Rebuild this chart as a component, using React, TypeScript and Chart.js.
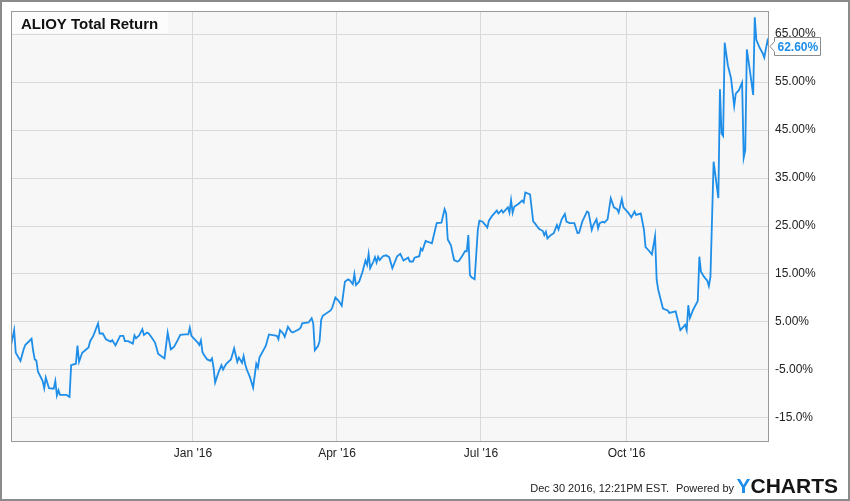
import React, { useEffect, useRef } from "react";
import { Chart, registerables } from "chart.js";

Chart.register(...registerables);

// Days counted from 1 Jan 2016 (negative = 2015)
const dayOffsets = [
  -115, -113, -112, -109, -107, -106, -102, -101, -100, -99, -98, -95, -94, -93, -91, -88, -87, -86, -85, -84,
  -80, -78, -77, -74, -73, -72, -70, -66, -65, -63, -60, -59, -57, -55, -52, -51, -49, -46, -44, -43,
  -41, -38, -37, -36, -34, -32, -31, -29, -28, -26, -24, -22, -21, -18, -16, -14, -12, -10, -8, -5,
  -3, -2, -1, 3, 4, 5, 6, 7, 9, 11, 12, 13, 14, 16, 18, 19, 21, 24, 26, 28,
  29, 31, 32, 33, 34, 36, 38, 40, 41, 42, 46, 48, 53, 54, 55, 57, 58, 60, 62, 63,
  67, 68, 69, 73, 75, 76, 77, 79, 80, 81, 82, 87, 88,
  90, 92, 94, 96, 98, 99, 101, 102, 103, 105, 107, 109, 110, 111, 112, 114, 115, 116, 117, 118,
  120, 122, 124, 126, 129, 131, 133, 136, 137, 139, 140, 143, 144, 145, 147, 151, 154, 157, 159, 160,
  161, 163, 165, 167, 168, 170, 172, 173, 174, 175, 176, 178, 180,
  181, 183, 186, 187, 189, 192, 193, 195, 196, 199, 200, 201, 202, 203, 206, 208, 209, 210, 213, 215,
  216, 218, 219, 221, 222, 223, 224, 226, 228, 230, 231, 233, 235, 236, 238, 241, 243, 244, 246, 249,
  250, 252, 253, 255, 256, 257, 259, 260, 262, 264, 266, 268, 269, 271, 272, 275,
  277, 279, 280, 283, 285, 286, 288, 290, 292, 293, 294, 297, 300, 301, 305, 308, 311, 312, 313,
  314, 316, 319, 320, 321, 323, 325, 326, 327, 329, 332, 333, 334, 335, 336, 338, 340, 342, 343, 345,
  347, 348, 349, 350, 352, 354, 355, 356, 358, 360, 361, 363, 364,
];

// ALIOY total return, %
const totalReturn = [
  0.1, 3.3, -1.4, -3.1, -0.7, 0.2, 1.5, -1.0, -2.8, -3.0, -5.3, -7.3, -8.8, -6.6, -8.8, -8.9, -7.3, -10.3, -9.2, -10.2,
  -10.2, -10.6, -4.0, -3.7, 0.1, -3.3, -1.4, -0.3, 1.0, 2.1, 4.7, 2.6, 2.6, 1.4, 0.9, 1.2, 0.1, 2.1, 2.1, 1.0,
  1.0, 0.5, 2.2, 1.6, 2.2, 3.5, 2.3, 2.8, 2.6, 1.7, 0.7, -1.6, -1.9, -2.6, 2.8, -0.7, -0.2, 1.0, 2.3, 2.4,
  2.4, 3.8, 2.1, 0.7, 0.2, 1.2, -1.3, -1.9, -2.8, -3.1, -2.6, -4.5, -7.6, -5.6, -4.0, -4.9, -3.7, -2.8, -0.5, -3.3,
  -2.4, -3.5, -2.1, -3.8, -4.9, -6.5, -8.7, -3.7, -4.5, -2.4, 0.0, 2.4, 2.1, 1.4, 3.3, 2.6, 1.9, 4.0, 3.0, 2.8,
  3.5, 3.8, 4.7, 4.9, 5.8, 4.7, -0.9, 0.0, 1.0, 5.4, 6.3, 7.4, 8.0,
  10.1, 9.4, 8.4, 13.4, 13.9, 13.7, 12.9, 15.0, 12.7, 13.4, 15.3, 17.8, 16.9, 19.2, 16.2, 17.6, 18.5, 17.4, 18.6, 17.9,
  18.7, 18.9, 18.5, 16.2, 18.7, 19.2, 17.8, 18.4, 17.6, 17.6, 18.4, 18.7, 20.3, 19.9, 21.9, 21.4, 25.6, 25.7, 28.5, 27.6,
  22.2, 21.0, 17.9, 17.6, 17.7, 18.7, 19.8, 19.7, 23.1, 14.8, 14.3, 13.9, 24.2,
  26.1, 25.9, 24.7, 26.1, 27.1, 28.2, 27.6, 28.3, 27.8, 28.9, 27.8, 30.4, 27.8, 29.0, 29.7, 30.3, 29.9, 32.0, 31.6, 25.9,
  25.6, 24.7, 24.3, 24.0, 23.1, 23.8, 22.4, 23.1, 23.5, 25.2, 24.3, 26.4, 27.5, 25.9, 25.6, 25.6, 23.5, 23.6, 25.9, 28.0,
  27.8, 24.2, 25.2, 26.4, 24.5, 25.6, 25.9, 25.7, 26.4, 30.8, 28.9, 28.5, 27.8, 30.6, 28.9, 27.8,
  26.8, 28.0, 27.3, 27.6, 24.2, 20.6, 19.9, 19.1, 22.9, 13.8, 11.7, 7.8, 7.4, 6.9, 7.2, 3.3, 4.4, 3.3, 8.5,
  5.8, 7.5, 9.4, 18.6, 15.5, 14.4, 13.6, 12.5, 14.4, 38.4, 30.8, 53.5, 44.3, 43.8, 63.2, 58.5, 55.8, 50.0, 52.6, 53.3,
  54.9, 39.2, 40.8, 61.8, 57.2, 52.3, 68.5, 63.8, 62.2, 61.0, 60.1, 63.6, 62.6,
];

const xTickDays = [0, 91, 182, 274];
const xTickLabels = ["Jan '16", "Apr '16", "Jul '16", "Oct '16"];
const yTickValues = [-15, -5, 5, 15, 25, 35, 45, 55, 65];
const yTickLabels = ["-15.0%", "-5.00%", "5.00%", "15.00%", "25.00%", "35.00%", "45.00%", "55.00%", "65.00%"];
const chartTitle = "ALIOY Total Return";
const footerDate = "Dec 30 2016, 12:21PM EST.";
const footerPowered = "Powered by";

const FONT = "'Liberation Sans', Arial, sans-serif";
const BLUE = "#1e8ee9";

const decorPlugin = {
  id: "decor",
  beforeDraw(chart: any) {
    const { ctx, chartArea: a } = chart;
    ctx.save();
    ctx.fillStyle = "#ffffff";
    ctx.fillRect(0, 0, chart.width, chart.height);
    ctx.fillStyle = "#f7f7f7";
    ctx.fillRect(a.left, a.top, a.right - a.left, a.bottom - a.top);
    ctx.restore();
  },
  afterDraw(chart: any) {
    const { ctx, chartArea: a } = chart;
    ctx.save();
    // plot border
    ctx.strokeStyle = "#999999";
    ctx.lineWidth = 1;
    ctx.strokeRect(a.left + 0.5, a.top + 0.5, a.right - a.left - 1, a.bottom - a.top);
    // title box
    ctx.fillStyle = "rgba(252,252,252,0.95)";
    ctx.fillRect(a.left + 1, a.top + 1, 156, 21);
    ctx.fillStyle = "#111111";
    ctx.font = `bold 15px ${FONT}`;
    ctx.textBaseline = "alphabetic";
    ctx.textAlign = "left";
    ctx.fillText(chartTitle, 21, 29);
    // last value label
    const meta = chart.getDatasetMeta(0);
    const pt = meta.data[meta.data.length - 1];
    const py = Math.round(pt.y) + 0.5;
    const bx = a.right + 5.5;
    const bw = 46;
    ctx.beginPath();
    ctx.moveTo(a.right + 1, py);
    ctx.lineTo(bx, py - 5);
    ctx.lineTo(bx, py - 9);
    ctx.lineTo(bx + bw, py - 9);
    ctx.lineTo(bx + bw, py + 9);
    ctx.lineTo(bx, py + 9);
    ctx.lineTo(bx, py + 5);
    ctx.closePath();
    ctx.fillStyle = "#ffffff";
    ctx.fill();
    ctx.strokeStyle = "#8c8c8c";
    ctx.lineWidth = 1;
    ctx.stroke();
    const last = totalReturn[totalReturn.length - 1];
    ctx.fillStyle = BLUE;
    ctx.font = `bold 12px ${FONT}`;
    ctx.textBaseline = "middle";
    ctx.fillText(`${last.toFixed(2)}%`, bx + 3, py + 1);
    // footer
    ctx.textBaseline = "alphabetic";
    ctx.textAlign = "right";
    ctx.font = `bold 21px ${FONT}`;
    ctx.fillStyle = "#151515";
    ctx.fillText("CHARTS", 838, 493);
    const w = ctx.measureText("CHARTS").width;
    ctx.fillStyle = BLUE;
    ctx.fillText("Y", 838 - w, 493);
    ctx.font = `11px ${FONT}`;
    ctx.fillStyle = "#222222";
    ctx.fillText(footerPowered, 734, 492);
    ctx.fillText(footerDate, 669, 492);
    // outer frame
    ctx.strokeStyle = "#8a8a8a";
    ctx.lineWidth = 2;
    ctx.strokeRect(1, 1, chart.width - 2, chart.height - 2);
    ctx.restore();
  },
};

export default function App() {
  const ref = useRef<HTMLCanvasElement | null>(null);

  useEffect(() => {
    document.body.style.margin = "0";
    const canvas = ref.current;
    if (!canvas) return;
    Chart.defaults.font.family = FONT;
    const chart = new Chart(canvas, {
      type: "line",
      data: {
        datasets: [
          {
            label: chartTitle,
            data: dayOffsets.map((d, i) => ({ x: d, y: totalReturn[i] })),
            borderColor: BLUE,
            borderWidth: 1.8,
            pointRadius: 0,
            tension: 0,
            fill: false,
          },
        ],
      },
      options: {
        animation: false,
        responsive: false,
        devicePixelRatio: 1,
        layout: { padding: { left: 11, top: 11, right: 0, bottom: 0 } },
        plugins: { legend: { display: false }, tooltip: { enabled: false }, title: { display: false } },
        scales: {
          x: {
            type: "linear",
            min: -115,
            max: 364,
            afterBuildTicks: (scale: any) => {
              scale.ticks = xTickDays.map((v) => ({ value: v }));
            },
            afterFit: (scale: any) => {
              scale.height = 60;
              scale.paddingLeft = 0;
              scale.paddingRight = 0;
            },
            ticks: {
              autoSkip: false,
              maxRotation: 0,
              padding: 5,
              color: "#222222",
              font: { size: 12, family: FONT },
              callback: (_v: any, i: number) => xTickLabels[i],
            },
            grid: { color: "#d9d9d9", lineWidth: 1, drawTicks: false },
            border: { display: false },
          },
          y: {
            type: "linear",
            position: "right",
            min: -19.8,
            max: 69.8,
            afterBuildTicks: (scale: any) => {
              scale.ticks = yTickValues.map((v) => ({ value: v }));
            },
            afterFit: (scale: any) => {
              scale.width = 81;
              scale.paddingTop = 0;
              scale.paddingBottom = 0;
            },
            ticks: {
              autoSkip: false,
              padding: 6,
              color: "#222222",
              font: { size: 12, family: FONT },
              callback: (_v: any, i: number) => yTickLabels[i],
            },
            grid: { color: "#d9d9d9", lineWidth: 1, drawTicks: false },
            border: { display: false },
          },
        },
      },
      plugins: [decorPlugin],
    });
    return () => chart.destroy();
  }, []);

  return (
    <div style={{ width: 850, height: 501 }}>
      <canvas ref={ref} width={850} height={501} style={{ display: "block", width: 850, height: 501 }} />
    </div>
  );
}
